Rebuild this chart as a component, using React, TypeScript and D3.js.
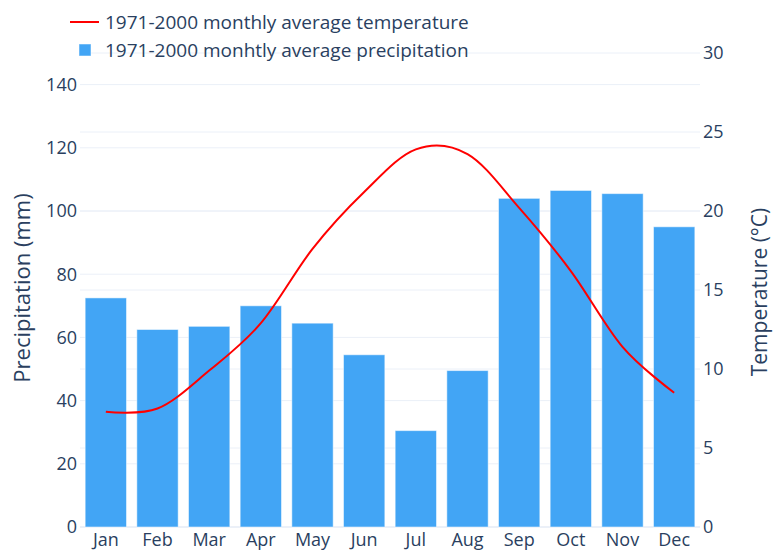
import { useEffect, useRef } from 'react';
import * as d3 from 'd3';

const months = ['Jan', 'Feb', 'Mar', 'Apr', 'May', 'Jun', 'Jul', 'Aug', 'Sep', 'Oct', 'Nov', 'Dec'];
const precipitation = [72.5, 62.5, 63.5, 70, 64.5, 54.5, 30.5, 49.5, 104, 106.5, 105.5, 95];
const temperature = [7.3, 7.5, 9.9, 12.9, 17.6, 21.2, 23.9, 23.6, 20.2, 16.2, 11.4, 8.5];
const precipTicks = [0, 20, 40, 60, 80, 100, 120, 140];
const tempTicks = [0, 5, 10, 15, 20, 25, 30];

const W = 774;
const H = 551;
const FONT = '"Open Sans", verdana, arial, sans-serif';
const TEXT = '#2a3f5f';
const GRID = '#ebf0f8';
const BAR = '#42a5f5';
const LINE = '#ff0000';

export default function App() {
  const ref = useRef<SVGSVGElement>(null);

  useEffect(() => {
    document.documentElement.style.overflow = 'hidden';
    document.body.style.margin = '0';
    document.body.style.overflow = 'hidden';
    if (!ref.current) return;
    const svg = d3.select(ref.current);
    svg.selectAll('*').remove();

    const margin = { top: 53, right: 74, bottom: 24, left: 80 };
    const width = W - margin.left - margin.right;
    const height = H - margin.top - margin.bottom;

    const x = d3.scaleBand().domain(months).range([0, width]).paddingInner(0.2).paddingOuter(0.1);
    const yP = d3.scaleLinear().domain([0, 150]).range([height, 0]);
    const yT = d3.scaleLinear().domain([0, 30]).range([height, 0]);

    const g = svg.append('g').attr('transform', `translate(${margin.left},${margin.top})`);

    // gridlines for both y axes
    g.append('g').selectAll('line').data(tempTicks).join('line')
      .attr('x1', 0).attr('x2', width)
      .attr('y1', d => yT(d)).attr('y2', d => yT(d))
      .attr('stroke', GRID).attr('stroke-width', 1);
    g.append('g').selectAll('line').data(precipTicks).join('line')
      .attr('x1', 0).attr('x2', width)
      .attr('y1', d => yP(d)).attr('y2', d => yP(d))
      .attr('stroke', GRID).attr('stroke-width', d => (d === 0 ? 2 : 1));

    // precipitation bars
    g.append('g').selectAll('rect').data(precipitation).join('rect')
      .attr('x', (_, i) => x(months[i]) as number)
      .attr('width', x.bandwidth())
      .attr('y', d => yP(d))
      .attr('height', d => height - yP(d))
      .attr('fill', BAR)
      .attr('stroke', '#ffffff')
      .attr('stroke-opacity', 0.5)
      .attr('stroke-width', 1);

    // temperature spline
    const line = d3.line<number>()
      .x((_, i) => (x(months[i]) as number) + x.bandwidth() / 2)
      .y(d => yT(d))
      .curve(d3.curveCardinal.tension(0));
    g.append('path')
      .datum(temperature)
      .attr('fill', 'none')
      .attr('stroke', LINE)
      .attr('stroke-width', 2)
      .attr('d', line);

    const label = (sel: any, size = 18) =>
      sel.style('font-family', FONT).style('font-size', `${size}px`).attr('fill', TEXT);

    // left tick labels
    label(g.append('g').selectAll('text').data(precipTicks).join('text')
      .attr('x', -3).attr('y', d => yP(d)).attr('dy', '0.35em')
      .attr('text-anchor', 'end'))
      .text(d => d);

    // right tick labels
    label(g.append('g').selectAll('text').data(tempTicks).join('text')
      .attr('x', width + 3).attr('y', d => yT(d)).attr('dy', '0.35em')
      .attr('text-anchor', 'start'))
      .text(d => d);

    // month labels
    label(g.append('g').selectAll('text').data(months).join('text')
      .attr('x', d => (x(d) as number) + x.bandwidth() / 2).attr('y', height + 19)
      .attr('text-anchor', 'middle'))
      .text(d => d);

    // axis titles
    label(svg.append('text')
      .attr('transform', `translate(30,${margin.top + height / 2 - 2}) rotate(-90)`)
      .attr('text-anchor', 'middle'), 22)
      .text('Precipitation (mm)');
    label(svg.append('text')
      .attr('transform', `translate(767,${margin.top + height / 2 + 2}) rotate(-90)`)
      .attr('text-anchor', 'middle'), 21)
      .text('Temperature (°C)');

    // legend
    const leg = svg.append('g');
    leg.append('line').attr('x1', 70).attr('x2', 99).attr('y1', 22).attr('y2', 22)
      .attr('stroke', LINE).attr('stroke-width', 2);
    label(leg.append('text').attr('x', 105).attr('y', 22).attr('dy', '0.35em'), 19)
      .text('1971-2000 monthly average temperature');
    leg.append('rect').attr('x', 79).attr('y', 44).attr('width', 12).attr('height', 12)
      .attr('fill', BAR).attr('stroke', '#ffffff').attr('stroke-opacity', 0.5);
    label(leg.append('text').attr('x', 105).attr('y', 50).attr('dy', '0.35em'), 19)
      .text('1971-2000 monhtly average precipitation');
  }, []);

  return (
    <svg ref={ref} width={W} height={H} style={{ display: 'block', background: '#fff' }} />
  );
}
